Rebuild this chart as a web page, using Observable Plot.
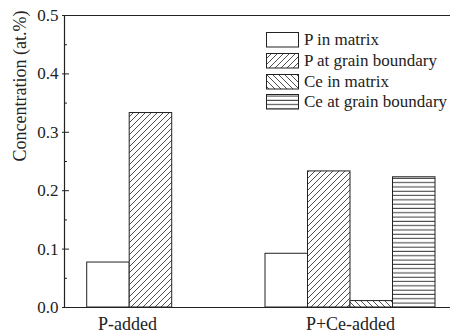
<!DOCTYPE html>
<html>
<head>
<meta charset="utf-8">
<script src="https://cdn.jsdelivr.net/npm/d3@7"></script>
<script src="https://cdn.jsdelivr.net/npm/@observablehq/plot@0.6"></script>
<style>
  body { margin: 0; background: #fff; }
  #wrap { position: relative; width: 450px; height: 336px; font-family: "Liberation Serif", "Times New Roman", serif; }
  .lg-row { position: absolute; display: flex; align-items: center; font-size: 17px; color: #222; white-space: nowrap; }
  .lg-row svg { margin-right: 5px; }
</style>
</head>
<body>
<div id="wrap"></div>
<script>
// ---- data ----
const groups = ["P-added", "P+Ce-added"];
const series = ["P in matrix", "P at grain boundary", "Ce in matrix", "Ce at grain boundary"];
const valuesPAdded = [0.077, 0.333, null, null];
const valuesPCeAdded = [0.092, 0.233, 0.011, 0.223];
const yTicks = [0, 0.1, 0.2, 0.3, 0.4, 0.5];
const yMinorTicks = [0.05, 0.15, 0.25, 0.35, 0.45];
const yLabel = "Concentration (at.%)";

// ---- layout ----
const W = 450, H = 336, mL = 64, mR = 0, mT = 15, mB = 29;
const barPx = 42.5;                       // bar width in pixels
const xMax = (W - mL - mR) / barPx;       // x scale in bar-width units
const groupCenterPx = [127, 350];
const groupCenters = groupCenterPx.map(p => (p - mL) / barPx);
const barCenterPx = [129.2, 350];
const barCenters = barCenterPx.map(p => (p - mL) / barPx);
const fills = ["white", "url(#hatch-fwd)", "url(#hatch-back)", "url(#hatch-horiz)"];
const ink = "#222";

const valuesByGroup = [valuesPAdded, valuesPCeAdded];
const bars = [];
groups.forEach((g, gi) => {
  const present = series.map((s, si) => ({s, v: valuesByGroup[gi][si]})).filter(d => d.v != null);
  const n = present.length;
  present.forEach((d, k) => {
    const x1 = barCenters[gi] - n / 2 + k;
    bars.push({group: g, series: d.s, value: d.v, x1, x2: x1 + 1});
  });
});

const px = p => p / barPx;

const plot = Plot.plot({
  width: W, height: H,
  marginLeft: mL, marginRight: mR, marginTop: mT, marginBottom: mB,
  style: {fontFamily: "'Liberation Serif', 'Times New Roman', serif", fontSize: "17px", color: ink, background: "white"},
  x: {type: "linear", domain: [0, xMax], axis: null},
  y: {domain: [0, 0.5]},
  color: {type: "ordinal", domain: series, range: fills},
  marks: [
    Plot.rectY(bars, {x1: "x1", x2: "x2", y1: 0, y2: "value", fill: "series", stroke: ink, strokeWidth: 1}),
    // axis frame lines (left, bottom, top)
    Plot.ruleX([0], {y1: 0, y2: 0.5, stroke: ink, strokeWidth: 1.2}),
    Plot.ruleY([0, 0.5], {x1: 0, x2: xMax, stroke: ink, strokeWidth: 1.2}),
    // inward ticks
    Plot.ruleY(yTicks, {x1: px(-2), x2: px(5), stroke: ink}),
    Plot.ruleY(yMinorTicks, {x1: 0, x2: px(3), stroke: ink}),
    Plot.axisY({ticks: yTicks, tickFormat: d3.format(".1f"), tickSize: 0, tickPadding: 6, label: null, fontSize: 17, fill: ink}),
    Plot.text(groups, {x: (d, i) => groupCenters[i], frameAnchor: "bottom", dy: 10, lineAnchor: "top", fontSize: 18, fill: ink}),
    Plot.text([yLabel], {frameAnchor: "left", dx: -44, rotate: -90, fontSize: 18, fill: ink})
  ]
});

// pattern definitions
const defs = d3.select(plot).insert("defs", ":first-child");
function pattern(id, w, h, draw) {
  const p = defs.append("pattern").attr("id", id).attr("patternUnits", "userSpaceOnUse")
    .attr("width", w).attr("height", h);
  p.append("rect").attr("width", w).attr("height", h).attr("fill", "white");
  draw(p);
}
pattern("hatch-fwd", 6, 6, p => p.append("path")
  .attr("d", "M0,6L6,0M-1,1L1,-1M5,7L7,5").attr("stroke", ink).attr("stroke-width", 0.8));
pattern("hatch-back", 6, 6, p => p.append("path")
  .attr("d", "M0,0L6,6M-1,5L1,7M5,-1L7,1").attr("stroke", ink).attr("stroke-width", 0.8));
pattern("hatch-horiz", 10, 4.3, p => p.append("path")
  .attr("d", "M0,2L10,2").attr("stroke", ink).attr("stroke-width", 0.9));

const wrap = document.getElementById("wrap");
wrap.appendChild(plot);

// legend overlay
const legend = d3.select(wrap);
series.forEach((s, i) => {
  const row = legend.append("div").attr("class", "lg-row")
    .style("left", "266px").style("top", (31 + i * 20.8) + "px").style("height", "18px");
  const sw = row.append("svg").attr("width", 33).attr("height", 16);
  sw.append("rect").attr("x", 0.5).attr("y", 0.5).attr("width", 32).attr("height", 14.5)
    .attr("fill", fills[i]).attr("stroke", ink).attr("stroke-width", 1);
  row.append("span").text(s);
});
</script>
</body>
</html>
